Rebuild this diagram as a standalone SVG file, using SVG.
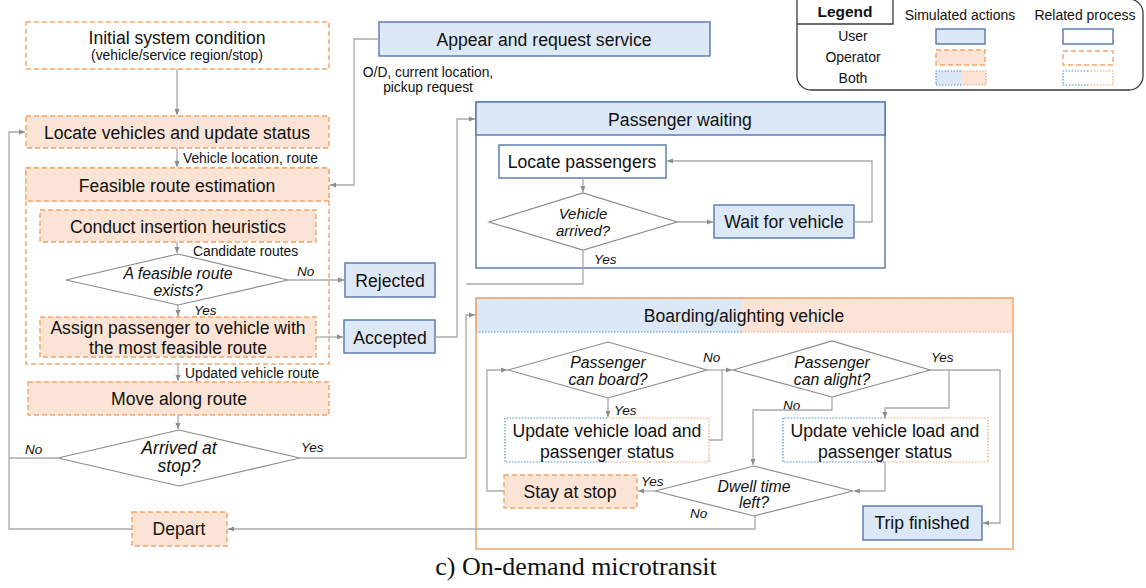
<svg xmlns="http://www.w3.org/2000/svg" width="1146" height="588" viewBox="0 0 1146 588">
<defs>
<marker id="ah" viewBox="0 0 8 8" refX="7" refY="4" markerWidth="7" markerHeight="7" orient="auto" markerUnits="userSpaceOnUse">
<path d="M0,1 L7,4 L0,7 z" fill="#8c8c8c"/>
</marker>
<style>
text{font-family:"Liberation Sans",Arial,sans-serif;fill:#111}
.t{font-size:17.6px;text-anchor:middle}
.s{font-size:13.8px}
.d{font-size:15.8px;font-style:italic;text-anchor:middle}
.lab{font-size:13.5px;font-style:italic}
.lg{font-size:14px;text-anchor:middle}
.op{fill:#fbe4d5;stroke:#f4a46a;stroke-width:1.4;stroke-dasharray:5 3}
.opr{fill:#fff;stroke:#f4a46a;stroke-width:1.4;stroke-dasharray:5 3}
.us{fill:#dce8f5;stroke:#5577b0;stroke-width:1.4}
.usr{fill:#fff;stroke:#5577b0;stroke-width:1.4}
.dia{fill:#fff;stroke:#8c8c8c;stroke-width:1.2}
.c{fill:none;stroke:#aaaaaa;stroke-width:1.3}
.ca{fill:none;stroke:#aaaaaa;stroke-width:1.3;marker-end:url(#ah)}
.bd{fill:none;stroke:#4f8fd0;stroke-width:1.2;stroke-dasharray:1.5 1.5}
.od{fill:none;stroke:#f4a46a;stroke-width:1.2;stroke-dasharray:1.5 1.5}
</style>
</defs>
<rect width="1146" height="588" fill="#fff"/>

<!-- Legend -->
<g id="legend">
<path d="M797,-1 H1129 A14,14 0 0 1 1143,13 V76 A14,14 0 0 1 1129,90 H811 A14,14 0 0 1 797,76 Z" fill="#fff" stroke="#3a3a3a" stroke-width="1.3"/>
<path d="M797,24 H893 V0" fill="none" stroke="#3a3a3a" stroke-width="1.3"/>
<text x="845" y="17" style="font-size:15.5px;font-weight:bold;text-anchor:middle">Legend</text>
<text x="960" y="20" class="lg">Simulated actions</text>
<text x="1085" y="20" class="lg">Related process</text>
<text x="853" y="41" class="lg">User</text>
<text x="853" y="62" class="lg">Operator</text>
<text x="853" y="83" class="lg">Both</text>
<rect x="936" y="29" width="49" height="15" class="us"/>
<rect x="1063" y="29" width="50" height="15" class="usr"/>
<rect x="936" y="50" width="49" height="15" class="op"/>
<rect x="1063" y="51" width="50" height="14" class="opr"/>
<rect x="936" y="71" width="25" height="14" fill="#dce8f5"/>
<rect x="961" y="71" width="25" height="14" fill="#fbe4d5"/>
<path d="M961,71 H936 V85 H961" class="bd"/>
<path d="M961,71 H986 V85 H961" class="od"/>
<path d="M1088,71 H1063 V85 H1088" class="bd"/>
<path d="M1088,71 H1113 V85 H1088" class="od"/>
</g>

<!-- Nodes -->
<g id="initial">
<rect x="26" y="22" width="303" height="47" class="opr"/>
<text x="177" y="44" class="t">Initial system condition</text>
<text x="177" y="60" style="font-size:13.8px;text-anchor:middle">(vehicle/service region/stop)</text>
</g>
<g id="locate-vehicles">
<rect x="26" y="116" width="303" height="32" class="op"/>
<text x="177" y="139" class="t">Locate vehicles and update status</text>
</g>
<text x="183" y="163" class="s">Vehicle location, route</text>
<g id="feasible-route">
<rect x="26" y="168" width="303" height="196" class="opr"/>
<rect x="26" y="168" width="303" height="33" class="op"/>
<text x="177" y="192" class="t">Feasible route estimation</text>
</g>
<g id="insertion">
<rect x="40" y="210" width="276" height="32" class="op"/>
<text x="178" y="233" class="t">Conduct insertion heuristics</text>
</g>
<text x="193" y="256" class="s">Candidate routes</text>
<g id="feasible-exists">
<polygon points="66,280 178,254 288,280 178,305" class="dia"/>
<text x="178" y="279" class="d">A feasible route</text>
<text x="178" y="296" class="d">exists?</text>
</g>
<text x="297" y="276" class="lab">No</text>
<text x="194" y="315" class="lab">Yes</text>
<g id="rejected">
<rect x="345" y="263" width="90" height="34" class="us"/>
<text x="390" y="287" class="t">Rejected</text>
</g>
<g id="assign">
<rect x="40" y="317" width="276" height="40" class="op"/>
<text x="178" y="334" class="t">Assign passenger to vehicle with</text>
<text x="178" y="354" class="t">the most feasible route</text>
</g>
<g id="accepted">
<rect x="344" y="320" width="91" height="33" class="us"/>
<text x="390" y="344" class="t">Accepted</text>
</g>
<text x="185" y="378" class="s">Updated vehicle route</text>
<g id="move">
<rect x="28" y="382" width="301" height="33" class="op"/>
<text x="179" y="405" class="t">Move along route</text>
</g>
<g id="arrived">
<polygon points="58,458 179,430 300,458 179,486" class="dia"/>
<text x="179" y="454" style="font-size:17.6px;font-style:italic;text-anchor:middle">Arrived at</text>
<text x="179" y="472" style="font-size:17.6px;font-style:italic;text-anchor:middle">stop?</text>
</g>
<text x="25" y="454" class="lab">No</text>
<text x="301" y="452" class="lab">Yes</text>
<g id="depart">
<rect x="132" y="512" width="95" height="34" class="op"/>
<text x="179" y="535" class="t">Depart</text>
</g>

<g id="appear">
<rect x="379" y="22" width="331" height="34" class="us"/>
<text x="544" y="46" class="t">Appear and request service</text>
</g>
<text x="428" y="77" class="s" style="text-anchor:middle">O/D, current location,</text>
<text x="428" y="92" class="s" style="text-anchor:middle">pickup request</text>

<g id="passenger-waiting">
<rect x="476" y="102" width="409" height="166" class="usr"/>
<rect x="476" y="102" width="409" height="33" class="us"/>
<text x="680" y="126" class="t">Passenger waiting</text>
</g>
<g id="locate-passengers">
<rect x="499" y="145" width="167" height="33" class="usr"/>
<text x="582" y="168" class="t">Locate passengers</text>
</g>
<g id="vehicle-arrived">
<polygon points="489,222 583,193 677,222 583,250" class="dia"/>
<text x="583" y="219" class="d" style="font-size:15px">Vehicle</text>
<text x="583" y="236" class="d" style="font-size:15px">arrived?</text>
</g>
<text x="594" y="264" class="lab">Yes</text>
<g id="wait-vehicle">
<rect x="714" y="205" width="140" height="33" class="us"/>
<text x="784" y="228" class="t">Wait for vehicle</text>
</g>

<g id="boarding">
<rect x="476" y="298" width="266" height="34" fill="#dce8f5"/>
<rect x="742" y="298" width="271" height="34" fill="#fbe4d5"/>
<path d="M742,298 H476 V332 H742" class="bd"/>
<path d="M742,298 H1013 M742,332 H1013" class="od"/>
<rect x="476" y="298" width="537" height="251" fill="none" stroke="#f4a46a" stroke-width="1.5"/>
<text x="744" y="322" class="t">Boarding/alighting vehicle</text>
</g>
<g id="can-board">
<polygon points="508,370 608,342 707,370 608,398" class="dia"/>
<text x="608" y="368" class="d">Passenger</text>
<text x="608" y="385" class="d">can board?</text>
</g>
<text x="703" y="362" class="lab">No</text>
<text x="614" y="415" class="lab">Yes</text>
<g id="can-alight">
<polygon points="733,370 832,341 930,370 832,397" class="dia"/>
<text x="832" y="368" class="d">Passenger</text>
<text x="832" y="385" class="d">can alight?</text>
</g>
<text x="931" y="362" class="lab">Yes</text>
<text x="783" y="410" class="lab">No</text>
<g id="update-board">
<rect x="505" y="418" width="204" height="44" fill="#fff"/>
<path d="M607,418 H505 V462 H607" class="bd"/>
<path d="M607,418 H709 V462 H607" class="od"/>
<text x="607" y="437" class="t">Update vehicle load and</text>
<text x="607" y="458" class="t">passenger status</text>
</g>
<g id="update-alight">
<rect x="783" y="418" width="205" height="44" fill="#fff"/>
<path d="M885,418 H783 V462 H885" class="bd"/>
<path d="M885,418 H988 V462 H885" class="od"/>
<text x="885" y="437" class="t">Update vehicle load and</text>
<text x="885" y="458" class="t">passenger status</text>
</g>
<g id="dwell">
<polygon points="655,491 754,466 853,491 754,516" class="dia"/>
<text x="754" y="492" class="d">Dwell time</text>
<text x="754" y="508" class="d">left?</text>
</g>
<text x="641" y="486" class="lab">Yes</text>
<text x="690" y="518" class="lab">No</text>
<g id="stay">
<rect x="504" y="475" width="133" height="33" class="op"/>
<text x="570" y="498" class="t">Stay at stop</text>
</g>
<g id="trip-finished">
<rect x="863" y="506" width="119" height="34" class="us"/>
<text x="922" y="529" class="t">Trip finished</text>
</g>

<!-- Connectors -->
<g id="connectors">
<path d="M177,69 V115" class="ca"/>
<path d="M132,529 H9 V132 H25" class="ca"/>
<path d="M58,458 H9" class="c"/>
<path d="M177,148 V167" class="ca"/>
<path d="M379,39 H354 V185 H330" class="ca"/>
<path d="M177,242 V253" class="ca"/>
<path d="M288,280 H344" class="ca"/>
<path d="M178,305 V316" class="ca"/>
<path d="M316,337 H343" class="ca"/>
<path d="M435,337 H457 V119 H475" class="ca"/>
<path d="M178,364 V381" class="ca"/>
<path d="M178,415 V429" class="ca"/>
<path d="M300,458 H466 V315 H475" class="ca"/>
<path d="M583,250 V284 H466" class="c"/>
<path d="M583,178 V192" class="ca"/>
<path d="M677,222 H713" class="ca"/>
<path d="M854,222 H872 V161 H667" class="ca"/>
<path d="M707,370 H732" class="ca"/>
<path d="M709,440 H722 V370" class="c"/>
<path d="M608,398 V417" class="ca"/>
<path d="M930,370 H1000 V523 H983" class="ca"/>
<path d="M949,370 V408 H885 V418" class="ca"/>
<path d="M832,397 V410 H753 V465" class="ca"/>
<path d="M885,462 V491 H854" class="ca"/>
<path d="M655,491 H638" class="ca"/>
<path d="M504,491 H487 V370 H507" class="ca"/>
<path d="M755,516 V529 H228" class="ca"/>
</g>

<text x="576" y="575" style="font-family:'Liberation Serif','Times New Roman',serif;font-size:26px;text-anchor:middle">c) On-demand microtransit</text>
</svg>
